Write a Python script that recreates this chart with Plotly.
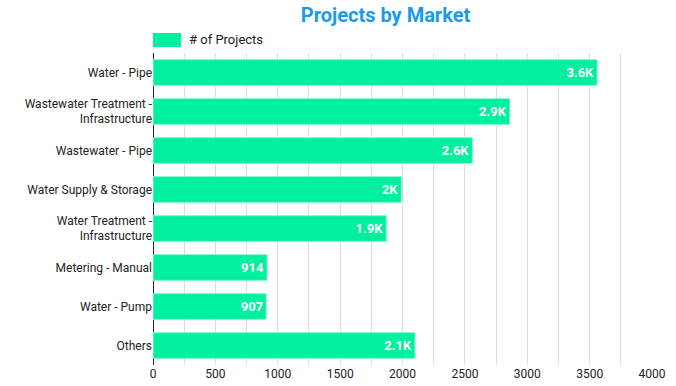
import plotly.graph_objects as go

categories = ["Water - Pipe", "Wastewater Treatment -<br>Infrastructure", "Wastewater - Pipe",
              "Water Supply & Storage", "Water Treatment -<br>Infrastructure", "Metering - Manual",
              "Water - Pump", "Others"]
projects = [3560, 2860, 2560, 1990, 1870, 914, 907, 2100]
series_name = "# of Projects"
title_text = "Projects by Market"


def fmt(v):
    if v >= 1000:
        s = f"{v/1000:.1f}".rstrip("0").rstrip(".")
        return s + "K"
    return str(v)


labels = [fmt(v) for v in projects]
BAR = "#00F0A0"
FONT = "Roboto"
L, R, T, B = 153, 24, 53, 21
PW = 676 - L - R
PH = 386 - T - B

fig = go.Figure(go.Bar(
    x=projects, y=categories, orientation="h", name=series_name,
    marker=dict(color=BAR, line=dict(color="#7ff6cb", width=1)),
    text=labels, textposition="inside", insidetextanchor="end",
    textfont=dict(family=FONT, size=13, color="white", weight="bold"),
    showlegend=False, cliponaxis=False,
))

fig.update_layout(
    width=676, height=386,
    margin=dict(l=L, r=R, t=T, b=B, autoexpand=False),
    plot_bgcolor="white", paper_bgcolor="white",
    font=dict(family=FONT, size=12, color="#222222"),
    showlegend=False,
    bargap=0.34,
    title=dict(text=f"<b>{title_text}</b>", x=0.466, xref="paper", xanchor="center",
               y=1 - 15/386, yref="container", yanchor="middle", automargin=False,
               font=dict(family=FONT, size=20, color="#1a9be8")),
    xaxis=dict(range=[0, 4000], dtick=500, showgrid=True, gridcolor="#dddddd", gridwidth=1,
               minor=dict(dtick=250, showgrid=True, gridcolor="#dddddd", gridwidth=1),
               zeroline=True, zerolinecolor="#222222", zerolinewidth=1,
               showline=False, ticks="", tickfont=dict(size=12, color="#222222"),
               automargin=False, fixedrange=True),
    yaxis=dict(autorange="reversed", showgrid=False, ticks="", ticklen=0,
               tickfont=dict(size=12, color="#222222"), showline=False, automargin=False,
               fixedrange=True),
    shapes=[dict(type="rect", xref="paper", yref="paper", x0=0, x1=28/PW, y0=1 + 6/PH,
                 y1=1 + 20/PH, fillcolor=BAR, line=dict(width=0))],
    annotations=[dict(text=series_name, xref="paper", yref="paper", x=34/PW, y=1 + 13/PH,
                      xanchor="left", yanchor="middle", showarrow=False,
                      font=dict(family=FONT, size=13, color="#222222"))],
)

fig.write_html("out.html", config={"displayModeBar": False},
               post_script="document.body.style.margin='0';")
